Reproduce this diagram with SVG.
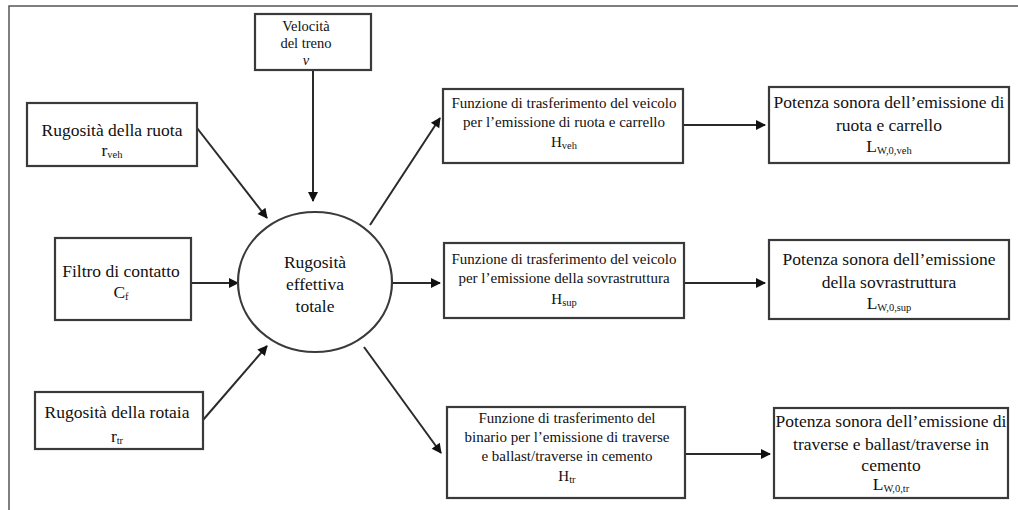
<svg xmlns="http://www.w3.org/2000/svg" width="1018" height="510" viewBox="0 0 1018 510">
<style>
.box{fill:#fff;stroke:#3a3a3a;stroke-width:2.2}
.frame{fill:none;stroke:#555;stroke-width:1.5}
text{fill:#111;text-anchor:middle;font-family:"Liberation Serif","Times New Roman",serif}
.l{font-size:17.5px}
.m{font-size:15px}
.s{font-size:14.5px}
.sub{font-size:10.5px}
.conn{stroke:#2a2a2a;stroke-width:2;fill:none;marker-end:url(#ah)}
</style>
<defs>
<marker id="ah" viewBox="0 0 10 10" refX="9" refY="5" markerWidth="11" markerHeight="10" markerUnits="userSpaceOnUse" orient="auto" overflow="visible">
<path d="M0,0 L10,5 L0,10 z" fill="#111"/>
</marker>
</defs>
<rect width="1018" height="510" fill="#fff"/>
<path class="frame" d="M9,510 V6 H1018"/>

<g id="connectors">
<line class="conn" x1="313" y1="70" x2="313" y2="201"/>
<line class="conn" x1="197" y1="128" x2="267" y2="218"/>
<line class="conn" x1="191" y1="283" x2="238" y2="283"/>
<line class="conn" x1="203" y1="420" x2="267" y2="346"/>
<line class="conn" x1="370" y1="225" x2="440" y2="118"/>
<line class="conn" x1="392" y1="283" x2="440" y2="283"/>
<line class="conn" x1="364" y1="347" x2="441" y2="453"/>
<line class="conn" x1="684" y1="125" x2="765" y2="125"/>
<line class="conn" x1="685" y1="283" x2="765" y2="283"/>
<line class="conn" x1="686" y1="454" x2="770" y2="454"/>
</g>

<g id="velocita">
<rect class="box" x="255" y="14" width="116" height="56"/>
<text class="s" x="306" y="31">Velocità</text>
<text class="s" x="306" y="48">del treno</text>
<text class="s" x="306" y="65" font-style="italic">v</text>
</g>

<g id="rug-ruota">
<rect class="box" x="27" y="103" width="170" height="63"/>
<text class="l" x="112" y="136">Rugosità della ruota</text>
<text class="l" x="112" y="156">r<tspan class="sub" dy="2">veh</tspan></text>
</g>

<g id="filtro">
<rect class="box" x="55" y="238" width="136" height="82"/>
<text class="l" x="121" y="277" font-size="18.5px">Filtro di contatto</text>
<text class="l" x="121" y="298">C<tspan class="sub" dy="2">f</tspan></text>
</g>

<g id="rug-rotaia">
<rect class="box" x="35" y="392" width="168" height="57"/>
<text class="l" x="117" y="418">Rugosità della rotaia</text>
<text class="l" x="117" y="442">r<tspan class="sub" dy="2">tr</tspan></text>
</g>

<g id="rugosita-totale">
<ellipse class="box" cx="315" cy="282" rx="77" ry="70"/>
<text class="l" x="315" y="268">Rugosità</text>
<text class="l" x="315" y="290">effettiva</text>
<text class="l" x="315" y="312">totale</text>
</g>

<g id="h-veh">
<rect class="box" x="443" y="89" width="240" height="74"/>
<text class="m" x="564" y="108">Funzione di trasferimento del veicolo</text>
<text class="m" x="564" y="127">per l’emissione di ruota e carrello</text>
<text class="m" x="564" y="147">H<tspan class="sub" dy="2">veh</tspan></text>
</g>

<g id="h-sup">
<rect class="box" x="444" y="243" width="240" height="75"/>
<text class="m" x="564" y="264">Funzione di trasferimento del veicolo</text>
<text class="m" x="564" y="283">per l’emissione della sovrastruttura</text>
<text class="m" x="564" y="304">H<tspan class="sub" dy="2">sup</tspan></text>
</g>

<g id="h-tr">
<rect class="box" x="447" y="407" width="238" height="91"/>
<text class="m" x="567" y="423">Funzione di trasferimento del</text>
<text class="m" x="567" y="442">binario per l’emissione di traverse</text>
<text class="m" x="567" y="461">e ballast/traverse in cemento</text>
<text class="m" x="567" y="481">H<tspan class="sub" dy="2">tr</tspan></text>
</g>

<g id="lw-veh">
<rect class="box" x="769" y="87" width="240" height="76"/>
<text class="l" x="889" y="108">Potenza sonora dell’emissione di</text>
<text class="l" x="889" y="131">ruota e carrello</text>
<text class="l" x="889" y="152">L<tspan class="sub" dy="2">W,0,veh</tspan></text>
</g>

<g id="lw-sup">
<rect class="box" x="769" y="240" width="240" height="79"/>
<text class="l" x="889" y="265">Potenza sonora dell’emissione</text>
<text class="l" x="889" y="288">della sovrastruttura</text>
<text class="l" x="889" y="309">L<tspan class="sub" dy="2">W,0,sup</tspan></text>
</g>

<g id="lw-tr">
<rect class="box" x="774" y="408" width="234" height="90"/>
<text class="l" x="891" y="427">Potenza sonora dell’emissione di</text>
<text class="l" x="891" y="450">traverse e ballast/traverse in</text>
<text class="l" x="891" y="471">cemento</text>
<text class="l" x="891" y="490">L<tspan class="sub" dy="2">W,0,tr</tspan></text>
</g>
</svg>
